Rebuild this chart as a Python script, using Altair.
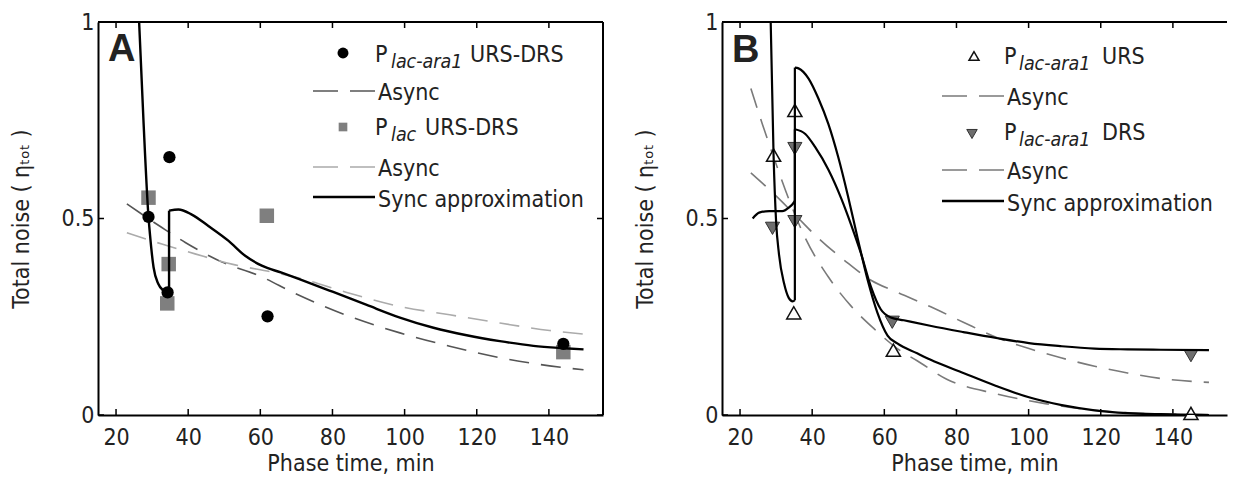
import altair as alt
import pandas as pd

FONT = "DejaVu Sans Condensed, DejaVu Sans"
TXT = "#222222"

# ---------------- data ----------------
x_ticks = [20, 40, 60, 80, 100, 120, 140]
y_ticks = [0, 0.5, 1]

# Panel A
a_circle_x = [29.0, 34.8, 34.3, 62.0, 144.0]
a_circle_y = [0.504, 0.656, 0.312, 0.251, 0.181]
a_square_x = [29.0, 34.6, 34.2, 61.8, 144.0]
a_square_y = [0.553, 0.384, 0.284, 0.507, 0.160]
a_sync_x = [26.4, 27.6, 29.0, 29.4, 30.4, 31.7, 33.1, 34.3, 34.7, 34.7, 37.3, 41.0, 45.6,
            51.2, 55.8, 60.4, 65.9, 71.0, 80.2, 89.5, 98.7, 108.0, 117.2, 126.4, 135.7,
            144.2, 149.6]
a_sync_y = [1.0, 0.75, 0.504, 0.46, 0.376, 0.334, 0.317, 0.312, 0.316, 0.520, 0.523, 0.510,
            0.481, 0.443, 0.405, 0.380, 0.362, 0.345, 0.313, 0.280, 0.248, 0.222, 0.203,
            0.188, 0.176, 0.170, 0.167]
a_async1_x = [23.0, 32.7, 39.2, 49.4, 59.5, 69.7, 85.0, 98.7, 112.5, 126.4, 140.2, 149.6]
a_async1_y = [0.537, 0.477, 0.439, 0.389, 0.355, 0.309, 0.250, 0.209, 0.175, 0.146, 0.125, 0.115]
a_async2_x = [23.0, 32.7, 41.9, 53.0, 63.2, 69.7, 85.0, 98.7, 112.5, 126.4, 140.2, 149.6]
a_async2_y = [0.464, 0.435, 0.410, 0.382, 0.364, 0.351, 0.309, 0.276, 0.255, 0.234, 0.215, 0.206]

# Panel B
b_up_x = [29.3, 35.2, 34.9, 62.5, 145.0]
b_up_y = [0.661, 0.775, 0.260, 0.165, 0.004]
b_down_x = [29.0, 35.2, 35.2, 62.2, 145.0]
b_down_y = [0.475, 0.678, 0.492, 0.236, 0.151]
b_urs_sync_x = [28.5, 29.3, 30.0, 30.8, 32.2, 33.5, 34.6, 35.2, 35.2, 36.2, 39.0, 41.7, 44.5,
                47.2, 49.9, 52.6, 55.4, 58.1, 60.9, 63.6, 69.1, 72.7, 81.9, 91.0, 100.1,
                109.2, 118.3, 127.4, 136.6, 150.0]
b_urs_sync_y = [1.0, 0.66, 0.492, 0.409, 0.335, 0.298, 0.289, 0.292, 0.884, 0.882, 0.856,
                0.806, 0.740, 0.657, 0.558, 0.450, 0.343, 0.260, 0.202, 0.182, 0.157, 0.141,
                0.107, 0.074, 0.045, 0.025, 0.012, 0.005, 0.002, 0.0]
b_drs_sync_x = [23.5, 25.3, 28.1, 31.7, 33.7, 34.6, 35.2, 35.2, 38.1, 40.8, 44.5, 48.1, 50.8,
                53.6, 56.3, 59.0, 61.8, 65.4, 72.7, 81.9, 91.0, 100.1, 109.2, 118.3, 127.4,
                136.6, 150.0]
b_drs_sync_y = [0.500, 0.515, 0.519, 0.519, 0.529, 0.537, 0.545, 0.727, 0.715, 0.682, 0.624,
                0.550, 0.484, 0.409, 0.326, 0.269, 0.248, 0.241, 0.227, 0.211, 0.196, 0.183,
                0.175, 0.169, 0.167, 0.166, 0.165]
b_async1_x = [23.0, 26.2, 29.9, 33.5, 38.1, 44.5, 50.8, 57.2, 63.6, 69.1, 77.3, 91.0, 104.6,
              118.3, 132.0, 150.0]
b_async1_y = [0.831, 0.740, 0.641, 0.550, 0.450, 0.351, 0.277, 0.219, 0.169, 0.138, 0.091,
              0.054, 0.029, 0.012, 0.004, 0.001]
b_async2_x = [23.0, 29.0, 35.4, 41.7, 49.0, 56.3, 63.6, 72.7, 81.9, 91.0, 100.1, 109.2, 118.3,
              127.4, 136.6, 150.0]
b_async2_y = [0.616, 0.566, 0.508, 0.450, 0.393, 0.343, 0.312, 0.276, 0.236, 0.198, 0.169,
              0.145, 0.124, 0.107, 0.093, 0.083]

# ---------------- helpers ----------------
W, H = 505, 393
OY = -7  # legend / letter vertical shift relative to plot top
dummy = pd.DataFrame({"d": [0]})
xs = alt.Scale(domain=[15, 155], nice=False, zero=False)
ys = alt.Scale(domain=[0, 1], nice=False, zero=False)

x_axis = alt.Axis(values=x_ticks, format="d", ticks=False, grid=False, domainColor="black",
                  domainWidth=2, labelFont=FONT, labelFontSize=23, labelColor=TXT,
                  labelPadding=11, labelOverlap=False, title="Phase time, min", titleFont=FONT,
                  titleFontSize=23, titleFontWeight="normal", titleColor=TXT, titlePadding=3)
y_axis = alt.Axis(values=y_ticks, format=".1~f", ticks=False, grid=False, domainColor="black",
                  domainWidth=2, labelFont=FONT, labelFontSize=23, labelColor=TXT,
                  labelPadding=4, labelOverlap=False, title="Total noise ( \u03b7\u209c\u2092\u209c )",
                  titleFont=FONT, titleFontSize=23, titleFontWeight="normal", titleColor=TXT,
                  titlePadding=28)


def X():
    return alt.X("x:Q", scale=xs, axis=x_axis)


def Y():
    return alt.Y("y:Q", scale=ys, axis=y_axis)


def line(xv, yv, color, width, dash=None):
    # split into smooth pieces at vertical jumps (repeated x)
    xs_, ys_, segs, idx = [], [], [], []
    seg = 0
    for i in range(len(xv)):
        if i > 0 and xv[i] == xv[i - 1]:
            seg += 1
            for j in (i - 1, i):
                xs_.append(xv[j]); ys_.append(yv[j]); segs.append(seg); idx.append(len(idx))
            seg += 1
        xs_.append(xv[i]); ys_.append(yv[i]); segs.append(seg); idx.append(len(idx))
    df = pd.DataFrame({"x": xs_, "y": ys_, "seg": segs, "i": idx})
    kw = dict(color=color, strokeWidth=width, clip=True, interpolate="monotone")
    if dash:
        kw["strokeDash"] = dash
    return alt.Chart(df).mark_line(**kw).encode(x=X(), y=Y(), detail="seg:N", order="i:Q")


def pts(xv, yv, **kw):
    df = pd.DataFrame({"x": xv, "y": yv})
    return alt.Chart(df).mark_point(opacity=1, **kw).encode(x=X(), y=Y())


def txt(s, x, y, size=23, style="normal", weight="normal", font=FONT):
    return alt.Chart(dummy).mark_text(text=s, font=font, fontSize=size, fontStyle=style,
                                      fontWeight=weight, align="left", baseline="alphabetic",
                                      color=TXT).encode(x=alt.value(x), y=alt.value(y + OY))


def hrule(x1, x2, y, color, width, dash=None):
    kw = dict(color=color, strokeWidth=width)
    if dash:
        kw["strokeDash"] = dash
    return alt.Chart(dummy).mark_rule(**kw).encode(x=alt.value(x1), x2=alt.value(x2), y=alt.value(y))


def sym(x, y, **kw):
    return alt.Chart(dummy).mark_point(opacity=1, **kw).encode(x=alt.value(x), y=alt.value(y + OY))


def frame(right=True):
    xt = pd.DataFrame({"x": x_ticks})
    yt = pd.DataFrame({"y": y_ticks})
    layers = [
        alt.Chart(xt).mark_rule(color="black", strokeWidth=1.5).encode(x=X(), y=alt.value(H), y2=alt.value(H - 6)),
        alt.Chart(xt).mark_rule(color="black", strokeWidth=1.5).encode(x=X(), y=alt.value(0), y2=alt.value(6)),
        alt.Chart(yt).mark_rule(color="black", strokeWidth=1.5).encode(y=Y(), x=alt.value(0), x2=alt.value(6)),
        hrule(0, W, 0, "black", 2),
    ]
    if right:
        layers.append(alt.Chart(yt).mark_rule(color="black", strokeWidth=1.5).encode(
            y=Y(), x=alt.value(W), x2=alt.value(W - 6)))
        layers.append(alt.Chart(dummy).mark_rule(color="black", strokeWidth=2).encode(
            x=alt.value(W), y=alt.value(0), y2=alt.value(H)))
    return layers


DASH = [20, 12]
LDASH = [25, 12]
DARK = "#555555"
LIGHT = "#ababab"
MID = "#7a7a7a"

# ---------------- panel A ----------------
panel_a = alt.layer(
    *frame(True),
    line(a_async1_x, a_async1_y, DARK, 1.6, DASH),
    line(a_async2_x, a_async2_y, LIGHT, 1.6, DASH),
    pts(a_square_x, a_square_y, shape="square", filled=True, color="#7f7f7f", size=210),
    pts(a_circle_x, a_circle_y, shape="circle", filled=True, color="black", size=150),
    line(a_sync_x, a_sync_y, "black", 2.4),
    txt("A", 10, 46, size=38, weight="bold", font="Liberation Sans"),
    # legend
    sym(245, 38, shape="circle", filled=True, color="black", size=120),
    txt("P", 277, 47), txt("lac-ara1", 293, 53, size=19.5, style="italic"), txt("URS-DRS", 372, 47),
    hrule(215, 277, 76 + OY, DARK, 1.6, LDASH), txt("Async", 280, 85),
    sym(245, 112, shape="square", filled=True, color="#7f7f7f", size=75),
    txt("P", 277, 120), txt("lac", 293, 126, size=19.5, style="italic"), txt("URS-DRS", 327, 120),
    hrule(215, 277, 152 + OY, LIGHT, 1.6, LDASH), txt("Async", 280, 161),
    hrule(215, 277, 182 + OY, "black", 2.4), txt("Sync approximation", 280, 192),
).properties(width=W, height=H)

# ---------------- panel B ----------------
panel_b = alt.layer(
    *frame(False),
    line(b_async1_x, b_async1_y, MID, 1.6, DASH),
    line(b_async2_x, b_async2_y, MID, 1.6, DASH),
    pts(b_down_x, b_down_y, shape="triangle-down", filled=True, fill="#6e6e6e", stroke="#333333",
        strokeWidth=1, size=200),
    pts(b_up_x, b_up_y, shape="triangle-up", filled=True, fill="white", stroke="#111111",
        strokeWidth=1.5, size=200),
    line(b_urs_sync_x, b_urs_sync_y, "black", 2.2),
    line(b_drs_sync_x, b_drs_sync_y, "black", 2.2),
    txt("B", 10, 47, size=38, weight="bold", font="Liberation Sans"),
    # legend
    sym(252, 41, shape="triangle-up", filled=True, fill="white", stroke="#111111", strokeWidth=1.5, size=100),
    txt("P", 282, 49), txt("lac-ara1", 297, 55, size=19.5, style="italic"), txt("URS", 380, 49),
    hrule(220, 282, 81 + OY, MID, 1.6, LDASH), txt("Async", 285, 90),
    sym(250, 119, shape="triangle-down", filled=True, fill="#6e6e6e", stroke="#333333", strokeWidth=1, size=110),
    txt("P", 282, 125), txt("lac-ara1", 297, 131, size=19.5, style="italic"), txt("DRS", 380, 125),
    hrule(220, 282, 155 + OY, MID, 1.6, LDASH), txt("Async", 285, 164),
    hrule(220, 282, 186 + OY, "black", 2.4), txt("Sync approximation", 285, 196),
).properties(width=W, height=H)

chart = alt.hconcat(panel_a, panel_b, spacing=30).properties(
    padding={"left": 2, "top": 3, "right": 0, "bottom": 0}
).configure_view(strokeWidth=0)

chart.save("out.html", embed_options={"renderer": "svg", "actions": False})
